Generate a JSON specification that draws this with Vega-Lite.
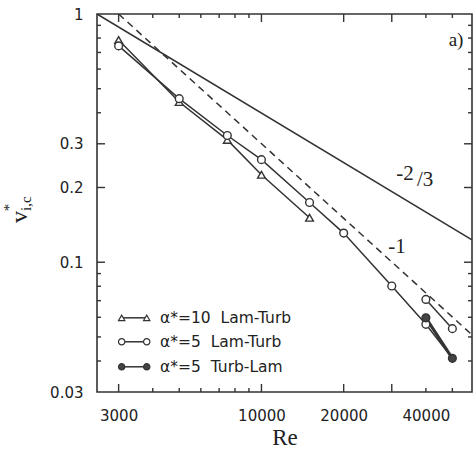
{
  "$schema": "https://vega.github.io/schema/vega-lite/v6.json",
  "width": 375,
  "height": 378,
  "autosize": "none",
  "padding": {"left": 97, "top": 14, "right": 1, "bottom": 64},
  "background": "white",
  "config": {
    "view": {"stroke": "#333", "strokeWidth": 1.6},
    "axis": {
      "domain": false,
      "grid": false,
      "ticks": false,
      "labelFont": "DejaVu Sans",
      "labelFontSize": 15,
      "labelColor": "#222",
      "labelFlush": false,
      "labelOverlap": false
    }
  },
  "datasets": {
    "ref": [
      {"id": "m23", "Re": 2500, "v": 1},
      {"id": "m23", "Re": 59000, "v": 0.123},
      {"id": "m1", "Re": 3000, "v": 1},
      {"id": "m1", "Re": 59000, "v": 0.051}
    ],
    "xticks": [
      {"Re": 3000, "v": 0.03, "kind": "major"}, {"Re": 4000, "v": 0.03, "kind": "minor"}, {"Re": 5000, "v": 0.03, "kind": "minor"},
      {"Re": 6000, "v": 0.03, "kind": "minor"}, {"Re": 7000, "v": 0.03, "kind": "minor"}, {"Re": 8000, "v": 0.03, "kind": "minor"},
      {"Re": 9000, "v": 0.03, "kind": "minor"}, {"Re": 10000, "v": 0.03, "kind": "major"}, {"Re": 20000, "v": 0.03, "kind": "major"},
      {"Re": 30000, "v": 0.03, "kind": "major"}, {"Re": 40000, "v": 0.03, "kind": "minor"}, {"Re": 50000, "v": 0.03, "kind": "minor"},
      {"Re": 3000, "v": 1, "kind": "major"}, {"Re": 4000, "v": 1, "kind": "minor"}, {"Re": 5000, "v": 1, "kind": "minor"},
      {"Re": 6000, "v": 1, "kind": "minor"}, {"Re": 7000, "v": 1, "kind": "minor"}, {"Re": 8000, "v": 1, "kind": "minor"},
      {"Re": 9000, "v": 1, "kind": "minor"}, {"Re": 10000, "v": 1, "kind": "major"}, {"Re": 20000, "v": 1, "kind": "major"},
      {"Re": 30000, "v": 1, "kind": "major"}, {"Re": 40000, "v": 1, "kind": "minor"}, {"Re": 50000, "v": 1, "kind": "minor"}
    ],
    "yticks": [
      {"Re": 2500, "v": 0.9, "kind": "minor"}, {"Re": 2500, "v": 0.8, "kind": "minor"}, {"Re": 2500, "v": 0.7, "kind": "minor"},
      {"Re": 2500, "v": 0.6, "kind": "minor"}, {"Re": 2500, "v": 0.5, "kind": "minor"}, {"Re": 2500, "v": 0.4, "kind": "minor"},
      {"Re": 2500, "v": 0.3, "kind": "major"}, {"Re": 2500, "v": 0.2, "kind": "major"}, {"Re": 2500, "v": 0.1, "kind": "major"},
      {"Re": 2500, "v": 0.09, "kind": "minor"}, {"Re": 2500, "v": 0.08, "kind": "minor"}, {"Re": 2500, "v": 0.07, "kind": "minor"},
      {"Re": 2500, "v": 0.06, "kind": "minor"}, {"Re": 2500, "v": 0.05, "kind": "minor"}, {"Re": 2500, "v": 0.04, "kind": "minor"},
      {"Re": 59000, "v": 0.9, "kind": "minor"}, {"Re": 59000, "v": 0.8, "kind": "minor"}, {"Re": 59000, "v": 0.7, "kind": "minor"},
      {"Re": 59000, "v": 0.6, "kind": "minor"}, {"Re": 59000, "v": 0.5, "kind": "minor"}, {"Re": 59000, "v": 0.4, "kind": "minor"},
      {"Re": 59000, "v": 0.3, "kind": "major"}, {"Re": 59000, "v": 0.2, "kind": "major"}, {"Re": 59000, "v": 0.1, "kind": "major"},
      {"Re": 59000, "v": 0.09, "kind": "minor"}, {"Re": 59000, "v": 0.08, "kind": "minor"}, {"Re": 59000, "v": 0.07, "kind": "minor"},
      {"Re": 59000, "v": 0.06, "kind": "minor"}, {"Re": 59000, "v": 0.05, "kind": "minor"}, {"Re": 59000, "v": 0.04, "kind": "minor"}
    ],
    "lines": [
      {"series": "tri", "Re": 3000, "v": 0.786},
      {"series": "tri", "Re": 5000, "v": 0.442},
      {"series": "tri", "Re": 7500, "v": 0.311},
      {"series": "tri", "Re": 10000, "v": 0.225},
      {"series": "tri", "Re": 15000, "v": 0.151},
      {"series": "circA", "Re": 3000, "v": 0.744},
      {"series": "circA", "Re": 5000, "v": 0.456},
      {"series": "circA", "Re": 7500, "v": 0.324},
      {"series": "circA", "Re": 10000, "v": 0.259},
      {"series": "circA", "Re": 15000, "v": 0.174},
      {"series": "circA", "Re": 20000, "v": 0.131},
      {"series": "circA", "Re": 30000, "v": 0.0802},
      {"series": "circA", "Re": 40000, "v": 0.0562},
      {"series": "circA", "Re": 50000, "v": 0.041},
      {"series": "circB", "Re": 40000, "v": 0.0708},
      {"series": "circB", "Re": 50000, "v": 0.054}
    ],
    "thick": [
      {"series": "fill", "Re": 40000, "v": 0.0597},
      {"series": "fill", "Re": 50000, "v": 0.041}
    ],
    "pts": [
      {"kind": "tri", "Re": 3000, "v": 0.786},
      {"kind": "tri", "Re": 5000, "v": 0.442},
      {"kind": "tri", "Re": 7500, "v": 0.311},
      {"kind": "tri", "Re": 10000, "v": 0.225},
      {"kind": "tri", "Re": 15000, "v": 0.151},
      {"kind": "open", "Re": 3000, "v": 0.744},
      {"kind": "open", "Re": 5000, "v": 0.456},
      {"kind": "open", "Re": 7500, "v": 0.324},
      {"kind": "open", "Re": 10000, "v": 0.259},
      {"kind": "open", "Re": 15000, "v": 0.174},
      {"kind": "open", "Re": 20000, "v": 0.131},
      {"kind": "open", "Re": 30000, "v": 0.0802},
      {"kind": "open", "Re": 40000, "v": 0.0562},
      {"kind": "open", "Re": 40000, "v": 0.0708},
      {"kind": "open", "Re": 50000, "v": 0.054},
      {"kind": "filled", "Re": 40000, "v": 0.0597},
      {"kind": "filled", "Re": 50000, "v": 0.041}
    ],
    "legend": [
      {"kind": "tri", "Re": 3078, "v": 0.0597},
      {"kind": "tri", "Re": 3802, "v": 0.0597},
      {"kind": "open", "Re": 3078, "v": 0.0478},
      {"kind": "open", "Re": 3802, "v": 0.0478},
      {"kind": "filled", "Re": 3078, "v": 0.0379},
      {"kind": "filled", "Re": 3802, "v": 0.0379}
    ],
    "legtext": [
      {"Re": 4253, "v": 0.0597, "label": "α*=10\u00a0\u00a0Lam-Turb"},
      {"Re": 4253, "v": 0.0478, "label": "α*=5\u00a0\u00a0Lam-Turb"},
      {"Re": 4253, "v": 0.0379, "label": "α*=5\u00a0\u00a0Turb-Lam"}
    ],
    "notes": [
      {"Re": 33560, "v": 0.2266, "label": "-2", "size": 21},
      {"Re": 39720, "v": 0.2144, "label": "/3", "size": 21},
      {"Re": 31370, "v": 0.115, "label": "-1", "size": 21},
      {"Re": 51580, "v": 0.786, "label": "a)", "size": 19}
    ],
    "ytitle": [
      {"Re": 1306, "v": 0.152, "label": "v", "size": 24},
      {"Re": 1374, "v": 0.172, "label": "i,c", "size": 15},
      {"Re": 1191, "v": 0.166, "label": "*", "size": 15}
    ]
  },
  "layer": [
    {
      "data": {"name": "ref"},
      "transform": [{"filter": "datum.id === 'm23'"}],
      "mark": {"type": "line", "color": "#333", "strokeWidth": 1.6, "clip": true},
      "encoding": {
        "x": {
          "field": "Re", "type": "quantitative",
          "scale": {"type": "log", "domain": [2500, 59000], "nice": false},
          "axis": {
            "orient": "bottom",
            "values": [3000, 10000, 20000, 40000],
            "format": "~g",
            "labelPadding": 16,
            "title": "Re",
            "titleFont": "Liberation Serif",
            "titleFontSize": 23,
            "titleFontWeight": "normal",
            "titleColor": "#222",
            "titlePadding": 3
          }
        },
        "y": {
          "field": "v", "type": "quantitative",
          "scale": {"type": "log", "domain": [0.03, 1], "nice": false},
          "axis": {
            "orient": "left",
            "values": [1, 0.3, 0.2, 0.1, 0.03],
            "format": "~g",
            "labelPadding": 14,
            "title": null
          }
        }
      }
    },
    {
      "data": {"name": "ref"},
      "transform": [{"filter": "datum.id === 'm1'"}],
      "mark": {"type": "line", "color": "#333", "strokeWidth": 1.5, "strokeDash": [7, 5], "clip": true},
      "encoding": {
        "x": {"field": "Re", "type": "quantitative", "scale": {"type": "log", "domain": [2500, 59000], "nice": false}},
        "y": {"field": "v", "type": "quantitative", "scale": {"type": "log", "domain": [0.03, 1], "nice": false}}
      }
    },
    {
      "data": {"name": "xticks"},
      "mark": {"type": "tick", "orient": "vertical", "color": "#333", "thickness": 1.4, "opacity": 1, "clip": true},
      "encoding": {
        "x": {"field": "Re", "type": "quantitative", "scale": {"type": "log", "domain": [2500, 59000], "nice": false}},
        "y": {"field": "v", "type": "quantitative", "scale": {"type": "log", "domain": [0.03, 1], "nice": false}},
        "size": {"field": "kind", "type": "nominal", "scale": {"domain": ["major", "minor"], "range": [16, 8]}, "legend": null}
      }
    },
    {
      "data": {"name": "yticks"},
      "mark": {"type": "tick", "orient": "horizontal", "color": "#333", "thickness": 1.4, "opacity": 1, "clip": true},
      "encoding": {
        "x": {"field": "Re", "type": "quantitative", "scale": {"type": "log", "domain": [2500, 59000], "nice": false}},
        "y": {"field": "v", "type": "quantitative", "scale": {"type": "log", "domain": [0.03, 1], "nice": false}},
        "size": {"field": "kind", "type": "nominal", "scale": {"domain": ["major", "minor"], "range": [16, 8]}, "legend": null}
      }
    },
    {
      "data": {"name": "lines"},
      "mark": {"type": "line", "color": "#333", "strokeWidth": 1.5},
      "encoding": {
        "x": {"field": "Re", "type": "quantitative", "scale": {"type": "log", "domain": [2500, 59000], "nice": false}},
        "y": {"field": "v", "type": "quantitative", "scale": {"type": "log", "domain": [0.03, 1], "nice": false}},
        "detail": {"field": "series", "type": "nominal"}
      }
    },
    {
      "data": {"name": "thick"},
      "mark": {"type": "line", "color": "#333", "strokeWidth": 3},
      "encoding": {
        "x": {"field": "Re", "type": "quantitative", "scale": {"type": "log", "domain": [2500, 59000], "nice": false}},
        "y": {"field": "v", "type": "quantitative", "scale": {"type": "log", "domain": [0.03, 1], "nice": false}}
      }
    },
    {
      "data": {"name": "legend"},
      "mark": {"type": "line", "color": "#333", "strokeWidth": 1.5},
      "encoding": {
        "x": {"field": "Re", "type": "quantitative", "scale": {"type": "log", "domain": [2500, 59000], "nice": false}},
        "y": {"field": "v", "type": "quantitative", "scale": {"type": "log", "domain": [0.03, 1], "nice": false}},
        "detail": {"field": "kind", "type": "nominal"}
      }
    },
    {
      "data": {"name": "pts"},
      "mark": {"type": "point", "filled": true, "strokeWidth": 1.4, "opacity": 1},
      "encoding": {
        "x": {"field": "Re", "type": "quantitative", "scale": {"type": "log", "domain": [2500, 59000], "nice": false}},
        "y": {"field": "v", "type": "quantitative", "scale": {"type": "log", "domain": [0.03, 1], "nice": false}},
        "shape": {"field": "kind", "type": "nominal", "scale": {"domain": ["tri", "open", "filled"], "range": ["triangle-up", "circle", "circle"]}, "legend": null},
        "fill": {"field": "kind", "type": "nominal", "scale": {"domain": ["tri", "open", "filled"], "range": ["white", "white", "#444"]}, "legend": null},
        "stroke": {"value": "#333"},
        "size": {"value": 60}
      }
    },
    {
      "data": {"name": "legend"},
      "mark": {"type": "point", "filled": true, "strokeWidth": 1.2, "opacity": 1},
      "encoding": {
        "x": {"field": "Re", "type": "quantitative", "scale": {"type": "log", "domain": [2500, 59000], "nice": false}},
        "y": {"field": "v", "type": "quantitative", "scale": {"type": "log", "domain": [0.03, 1], "nice": false}},
        "shape": {"field": "kind", "type": "nominal", "scale": {"domain": ["tri", "open", "filled"], "range": ["triangle-up", "circle", "circle"]}, "legend": null},
        "fill": {"field": "kind", "type": "nominal", "scale": {"domain": ["tri", "open", "filled"], "range": ["white", "white", "#444"]}, "legend": null},
        "stroke": {"value": "#333"},
        "size": {"value": 40}
      }
    },
    {
      "data": {"name": "legtext"},
      "mark": {"type": "text", "align": "left", "baseline": "middle", "font": "DejaVu Sans", "fontSize": 15.5, "color": "#222"},
      "encoding": {
        "x": {"field": "Re", "type": "quantitative", "scale": {"type": "log", "domain": [2500, 59000], "nice": false}},
        "y": {"field": "v", "type": "quantitative", "scale": {"type": "log", "domain": [0.03, 1], "nice": false}},
        "text": {"field": "label", "type": "nominal"}
      }
    },
    {
      "data": {"name": "notes"},
      "mark": {"type": "text", "align": "center", "baseline": "middle", "font": "Liberation Serif", "color": "#222"},
      "encoding": {
        "x": {"field": "Re", "type": "quantitative", "scale": {"type": "log", "domain": [2500, 59000], "nice": false}},
        "y": {"field": "v", "type": "quantitative", "scale": {"type": "log", "domain": [0.03, 1], "nice": false}},
        "text": {"field": "label", "type": "nominal"},
        "size": {"field": "size", "type": "quantitative", "scale": null}
      }
    },
    {
      "data": {"name": "ytitle"},
      "mark": {"type": "text", "align": "center", "baseline": "middle", "font": "Liberation Serif", "color": "#222", "angle": 270, "clip": false},
      "encoding": {
        "x": {"field": "Re", "type": "quantitative", "scale": {"type": "log", "domain": [2500, 59000], "nice": false}},
        "y": {"field": "v", "type": "quantitative", "scale": {"type": "log", "domain": [0.03, 1], "nice": false}},
        "text": {"field": "label", "type": "nominal"},
        "size": {"field": "size", "type": "quantitative", "scale": null}
      }
    }
  ]
}
